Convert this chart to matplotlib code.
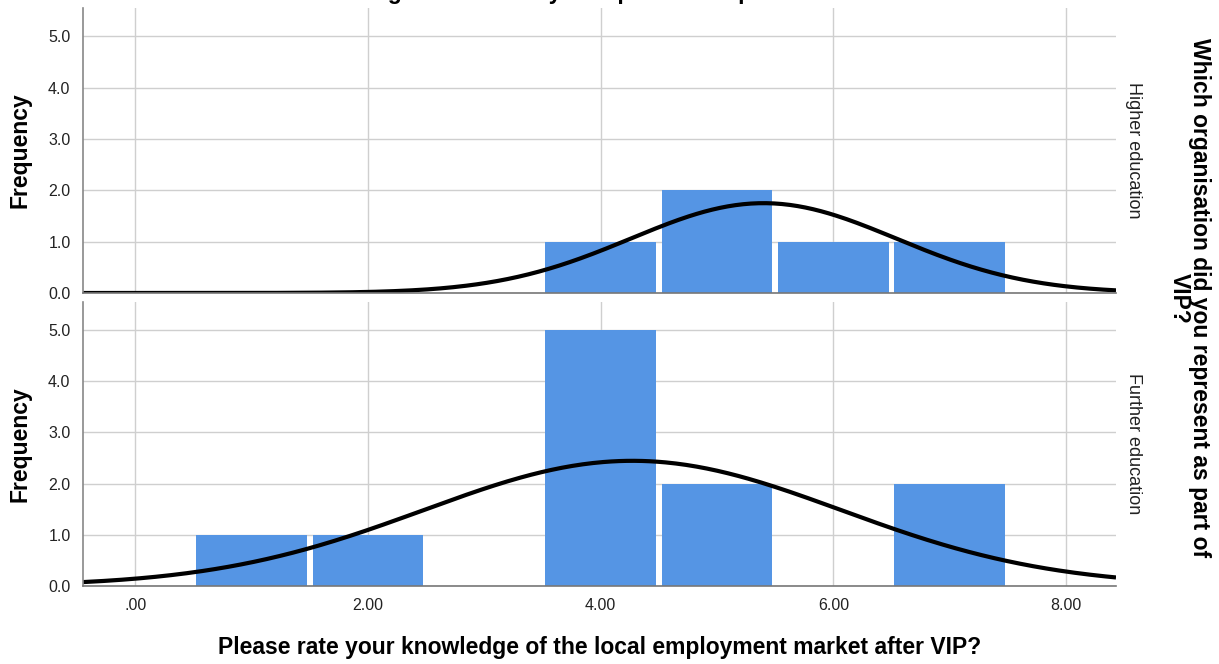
import numpy as np
import matplotlib
matplotlib.use("Agg")
import matplotlib.pyplot as plt

plt.rcParams['font.family'] = ['Liberation Sans', 'DejaVu Sans']

# ratings per organisation (value -> count)
ratings = [1, 2, 3, 4, 5, 6, 7]
higher_counts = [0, 0, 0, 1, 2, 1, 1]
further_counts = [1, 1, 0, 5, 2, 0, 2]
groups = ['Higher education', 'Further education']
xticks = [0, 2, 4, 6, 8]
xticklabels = ['.00', '2.00', '4.00', '6.00', '8.00']
yticks = [0, 1, 2, 3, 4, 5]

bar_col = '#5595e4'
grid_col = '#cfcfcf'

fig = plt.figure(figsize=(12.19, 6.64), dpi=100)
W, H = 1219, 664
ax1 = fig.add_axes([83/W, 1-293/H, (1116-83)/W, (293-8)/H])
ax2 = fig.add_axes([83/W, 1-586/H, (1116-83)/W, (586-302)/H])

xs = np.linspace(-0.45, 8.43, 400)
for ax, counts, name in zip([ax1, ax2], [higher_counts, further_counts], groups):
    ax.set_axisbelow(True)
    ax.bar(ratings, counts, width=0.95, color=bar_col, linewidth=0)
    vals = np.repeat(ratings, counts)
    mu = vals.mean()
    sd = vals.std(ddof=1)
    n = len(vals)
    dens = n / (sd * np.sqrt(2*np.pi)) * np.exp(-0.5*((xs-mu)/sd)**2)
    ax.plot(xs, dens, color='black', lw=3.0, solid_capstyle='butt')
    ax.set_xlim(-0.45, 8.43)
    ax.set_ylim(0, 5.55)
    ax.set_yticks(yticks)
    ax.set_yticklabels(['%.1f' % v for v in yticks], fontsize=11.5, color='#222222')
    ax.set_xticks(xticks)
    ax.grid(True, color=grid_col, lw=1)
    ax.tick_params(length=0, pad=9)
    for s in ['top', 'right']:
        ax.spines[s].set_visible(False)
    ax.spines['left'].set_color('#888888')
    ax.spines['bottom'].set_color('#777777')
    ax.spines['left'].set_linewidth(1.2)
    ax.spines['bottom'].set_linewidth(1.2)
    ax.set_ylabel('Frequency', fontsize=16.5, fontweight='bold', labelpad=12)
    ax.text(1.009, 0.5, name, transform=ax.transAxes, rotation=-90,
            ha='left', va='center', fontsize=13, color='#222222')

ax1.set_xticklabels([])
ax2.set_xticklabels(xticklabels, fontsize=11.5, color='#222222')
ax2.tick_params(axis='x', pad=9)
ax2.set_xlabel('Please rate your knowledge of the local employment market after VIP?',
               fontsize=16.5, fontweight='bold', labelpad=16)

fig.text(1189/W, 1-298/H, 'Which organisation did you represent as part of\nVIP?',
         rotation=-90, ha='center', va='center', fontsize=16.5, fontweight='bold',
         linespacing=0.85)

# title cut off at the top edge of the image
fig.text(578/W, 1+1.5/H, 'Which organisation did you represent as part of VIP?',
         ha='center', va='baseline', fontsize=16.5, fontweight='bold')

fig.savefig('out.png', dpi=100)
